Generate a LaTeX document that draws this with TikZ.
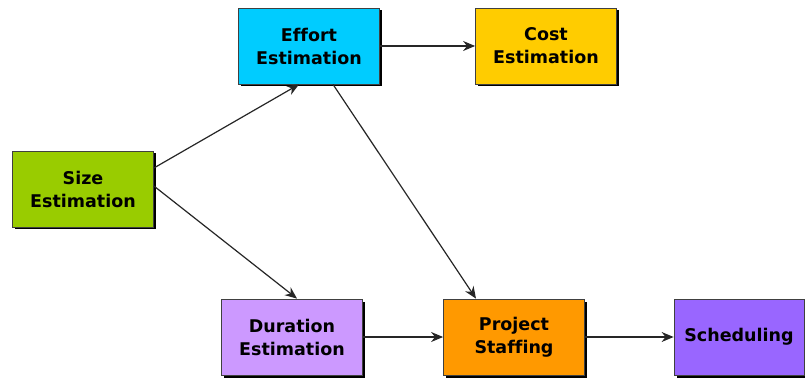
\documentclass[tikz,border=0pt]{standalone}
\usepackage{fontspec}
\setmainfont{DejaVu Sans}[Ligatures=NoCommon]
\usetikzlibrary{arrows.meta, shadows}
\definecolor{sizegreen}{HTML}{99CC00}
\definecolor{effortcyan}{HTML}{00CCFF}
\definecolor{costyellow}{HTML}{FFCC00}
\definecolor{durlilac}{HTML}{CC99FF}
\definecolor{staffonge}{HTML}{FF9900}
\definecolor{schedpurple}{HTML}{9966FF}

\tikzset{
  task/.style={draw=black!75, line width=0.8pt, minimum width=141pt, minimum height=76pt,
    align=center, font=\bfseries\fontsize{17.5}{23}\selectfont, inner sep=0pt,
    drop shadow={shadow xshift=2.5pt, shadow yshift=-2.5pt, fill=black, opacity=1}},
  flow/.style={-{Stealth[length=12pt, width=10pt]}, line width=1.2pt, black!85}
}

\begin{document}
\begin{tikzpicture}[x=1pt, y=-1pt]
    \useasboundingbox[fill=white] (0,0) rectangle (805,379);

    % estimation steps
    \node[task, fill=sizegreen]   (size)   at (83,189)  {Size\\Estimation};
    \node[task, fill=effortcyan]  (effort) at (309,46)  {Effort\\Estimation};
    \node[task, fill=costyellow]  (cost)   at (546,46)  {Cost\\Estimation};

    % planning steps
    \node[task, fill=durlilac]    (dur)    at (292,337) {Duration\\Estimation};
    \node[task, fill=staffonge]   (staff)  at (514,337) {Project\\Staffing};
    \node[task, fill=schedpurple, minimum width=130pt] (sched) at (739,337) {Scheduling};

    \draw[flow] ([yshift=21pt]size.east) -- ([xshift=-10pt]effort.south);
    \draw[flow] ([yshift=3pt]size.east) -- ([xshift=5pt]dur.north);
    \draw[flow] (effort) -- (cost);
    \draw[flow] ([xshift=24pt]effort.south) -- ([xshift=-38pt]staff.north);
    \draw[flow] (dur) -- (staff);
    \draw[flow] (staff) -- (sched);
\end{tikzpicture}
\end{document}
